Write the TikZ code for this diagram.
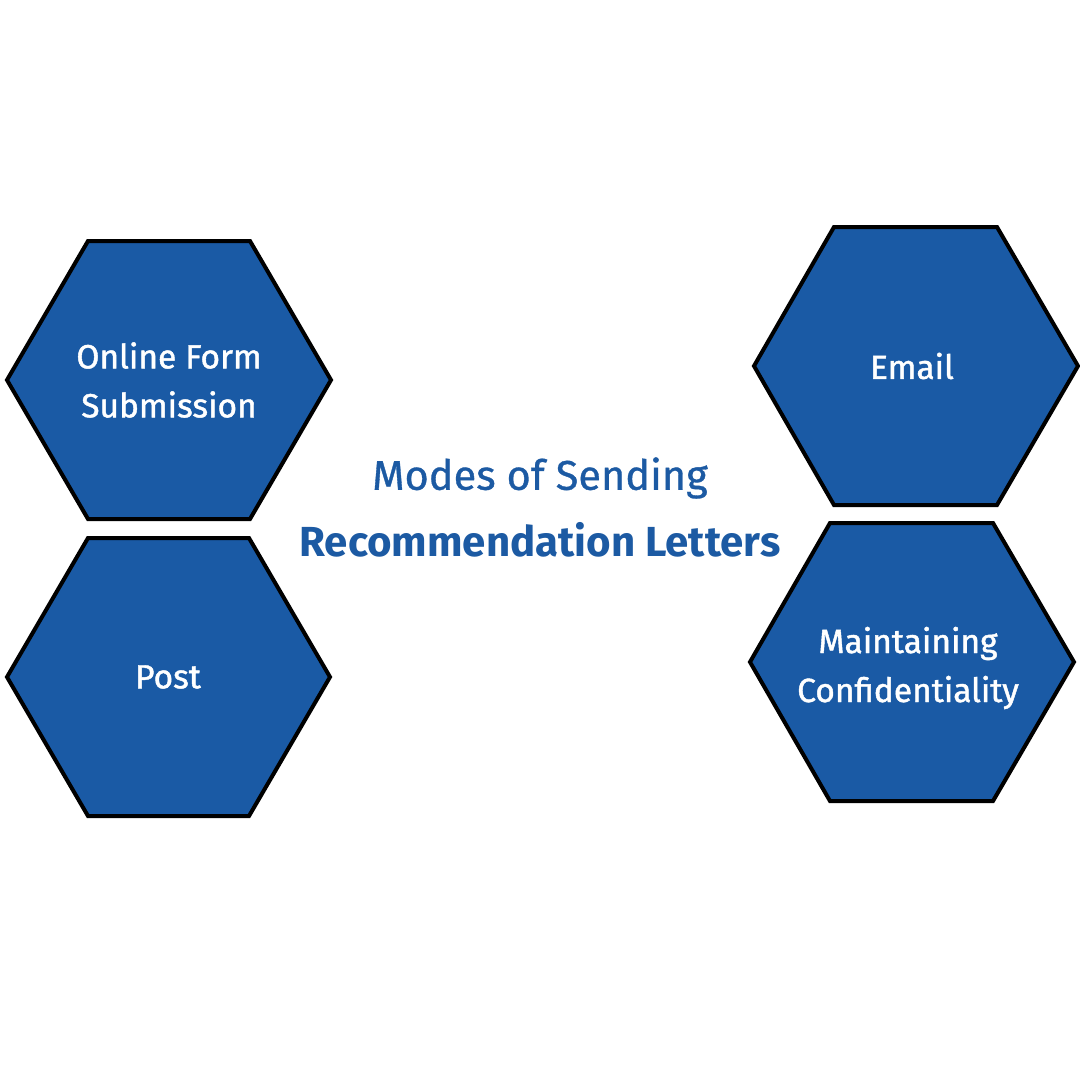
\documentclass[tikz,border=0pt]{standalone}
\usepackage{fontspec}
\setmainfont{Fira Sans}
\newfontfamily\hexfont{Fira Sans}[FakeBold=1.3]
\newfontfamily\titlefont{Fira Sans}[FakeBold=0.8]
\definecolor{hexblue}{HTML}{1A5AA5}
\definecolor{titleblue}{HTML}{1C5AA3}
\begin{document}
\begin{tikzpicture}[x=1pt,y=-1pt,
  hexshape/.style={fill=hexblue,draw=black,line width=4pt,line join=miter},
  hextext/.style={text=white,font=\hexfont\fontsize{33.5}{49}\selectfont,align=center},
  titletext/.style={text=titleblue,align=center}]
\useasboundingbox (0,0) rectangle (1080,1080);
\fill[white] (0,0) rectangle (1080,1080);
% hexagons
\draw[hexshape] (88,241)--(250,241)--(331,380)--(250,519)--(88,519)--(7,380)--cycle;
\draw[hexshape] (88,538)--(249,538)--(330,677)--(249,816)--(88,816)--(7,677)--cycle;
\draw[hexshape] (834,227)--(997,227)--(1078,366)--(997,505)--(834,505)--(754,366)--cycle;
\draw[hexshape] (830,523)--(993,523)--(1074,662)--(993,801)--(830,801)--(750,662)--cycle;
\node[hextext] (online) at (169,380) {Online Form\\Submission};
\node[hextext] (post) at (168,677) {Post};
\node[hextext] (email) at (912,366) {Email};
\node[hextext] (confid) at (908,668) {Maintaining\\Confidentiality};
\node[titletext,font=\titlefont\fontsize{41.5}{62}\selectfont] (title1) at (540,478) {Modes of Sending};
\node[titletext,font=\fontsize{42}{62}\selectfont\bfseries] (title2) at (540,540) {Recommendation Letters};
\end{tikzpicture}
\end{document}
